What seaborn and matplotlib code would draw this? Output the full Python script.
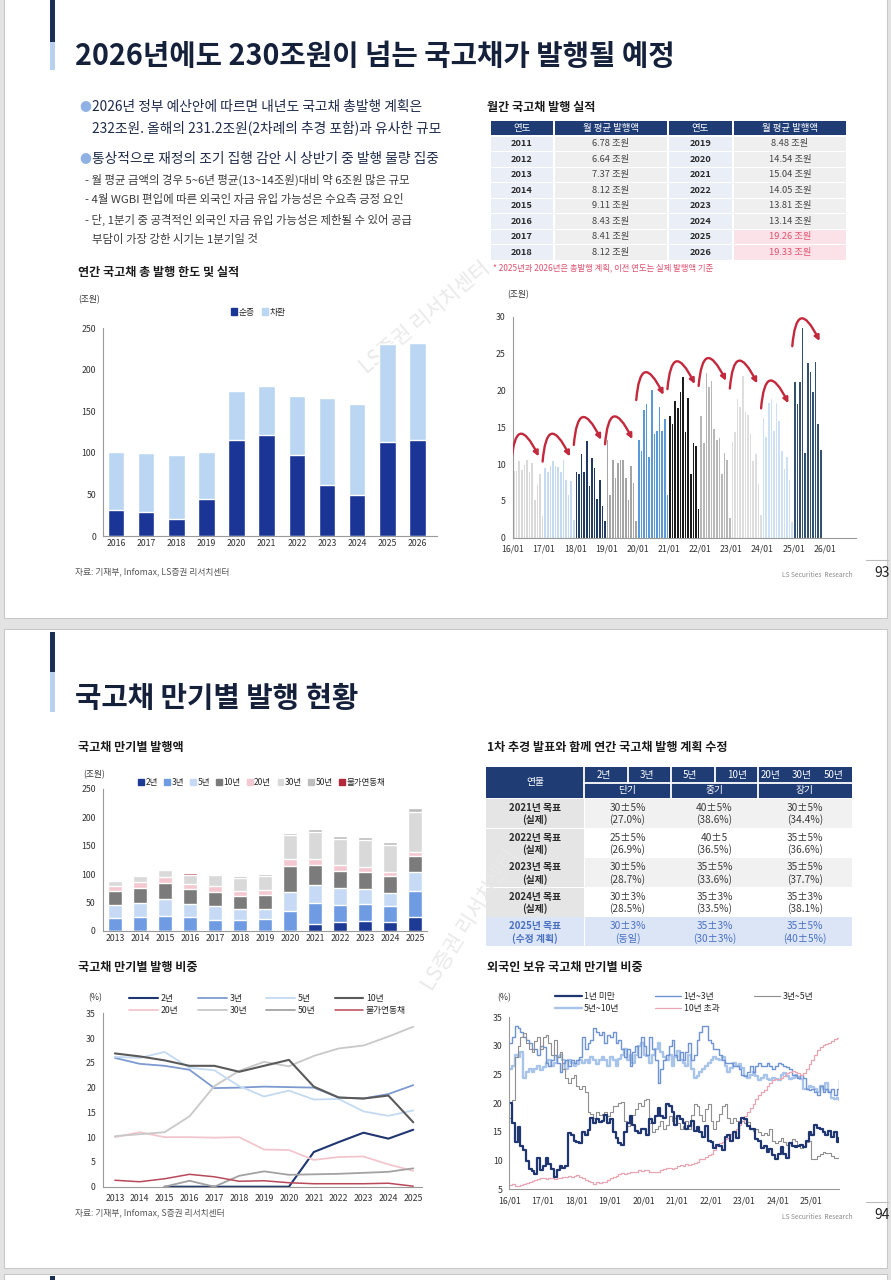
import numpy as np
import pandas as pd
import matplotlib
matplotlib.use("Agg")
import matplotlib.pyplot as plt
import seaborn as sns
from matplotlib.patches import Rectangle, FancyArrowPatch, Patch
from matplotlib.lines import Line2D

# ======================= DATA =======================
# Annual KTB issuance (조원)
ANNUAL_YEARS = ['2016', '2017', '2018', '2019', '2020', '2021', '2022', '2023', '2024', '2025', '2026']
ANNUAL_NET = [31, 29, 20, 44, 115, 121, 97, 61, 49, 113, 115.6]
ANNUAL_REFI = [70, 71, 77, 57.5, 59.5, 59.5, 71.5, 104.5, 109.5, 118.2, 116.4]

# Monthly average issuance table
TBL_YEARS_L = ['2011', '2012', '2013', '2014', '2015', '2016', '2017', '2018']
TBL_VALS_L = ['6.78 조원', '6.64 조원', '7.37 조원', '8.12 조원', '9.11 조원', '8.43 조원', '8.41 조원', '8.12 조원']
TBL_YEARS_R = ['2019', '2020', '2021', '2022', '2023', '2024', '2025', '2026']
TBL_VALS_R = ['8.48 조원', '14.54 조원', '15.04 조원', '14.05 조원', '13.81 조원', '13.14 조원', '19.26 조원', '19.33 조원']

# Monthly issuance (조원)
ISS_2016 = [9.1, 9.0, 10.4, 9.2, 9.9, 10.5, 8.9, 10.2, 5.1, 7.2, 8.7, 2.9]
ISS_2017 = [9.5, 8.9, 9.7, 10.4, 9.8, 9.6, 8.9, 10.5, 7.8, 5.8, 7.7, 2.4]
ISS_2018 = [8.9, 8.6, 11.4, 8.9, 13.1, 7.0, 10.8, 9.4, 5.2, 7.9, 4.3, 2.2]
ISS_2019 = [13.2, 5.8, 10.6, 8.1, 10.2, 10.6, 10.5, 8.1, 5.1, 9.8, 7.4, 2.3]
ISS_2020 = [13.3, 11.8, 17.4, 18.2, 10.9, 20.1, 14.1, 14.5, 17.8, 14.5, 16.1, 5.8]
ISS_2021 = [16.5, 15.4, 18.6, 17.6, 19.8, 21.8, 14.3, 19.0, 8.7, 12.8, 12.4, 3.9]
ISS_2022 = [16.5, 12.9, 22.3, 20.4, 21.3, 14.8, 13.2, 13.6, 8.7, 11.5, 10.6, 2.7]
ISS_2023 = [13.0, 14.3, 18.8, 17.8, 21.9, 17.0, 16.7, 14.1, 10.4, 11.3, 7.3, 3.1]
ISS_2024 = [16.2, 13.7, 18.3, 18.8, 14.5, 18.3, 15.8, 11.8, 9.3, 11.0, 7.9, 2.1]
ISS_2025 = [21.1, 18.2, 21.1, 28.5, 11.5, 23.7, 22.5, 19.8, 23.9, 15.4, 11.9]
ISS_TICKS = ['16/01', '17/01', '18/01', '19/01', '20/01', '21/01', '22/01', '23/01', '24/01', '25/01', '26/01']

# Issuance by maturity (조원)
MAT_YEARS = ['2013', '2014', '2015', '2016', '2017', '2018', '2019', '2020', '2021', '2022', '2023', '2024', '2025']
AMT_2Y = [0, 0, 0, 0, 0, 0, 0, 0, 12.6, 15.2, 18.2, 15.3, 25.0]
AMT_3Y = [23.0, 24.2, 26.6, 24.0, 20.1, 19.4, 20.5, 35.1, 36.1, 30.3, 29.7, 29.5, 44.7]
AMT_5Y = [23.2, 25.3, 29.6, 24.4, 23.7, 19.7, 18.5, 33.9, 31.8, 29.8, 25.4, 22.6, 33.6]
AMT_10Y = [23.8, 25.6, 27.8, 24.8, 24.6, 22.5, 24.8, 44.7, 36.5, 30.3, 29.7, 29.1, 28.3]
AMT_20Y = [8.9, 10.7, 10.9, 10.2, 10.0, 9.7, 7.6, 12.9, 9.7, 10.1, 10.2, 7.1, 7.0]
AMT_30Y = [9.0, 10.3, 12.0, 14.4, 20.5, 22.7, 25.6, 42.4, 47.7, 47.0, 47.6, 47.9, 70.4]
AMT_50Y = [0, 0, 0, 1.2, 0, 2.1, 3.1, 4.2, 4.5, 4.4, 4.7, 4.7, 8.1]
AMT_ILB = [1.2, 1.0, 1.7, 2.5, 2.0, 1.1, 1.2, 1.4, 1.1, 1.0, 1.0, 1.1, 0.2]

# Issuance share by maturity (%)
SHR_2Y = [np.nan, np.nan, 0, 0, 0, 0, 0, 0, 7.0, 9.0, 10.9, 9.7, 11.5]
SHR_3Y = [26.0, 24.8, 24.4, 23.6, 19.9, 20.0, 20.2, 20.1, 20.0, 18.0, 17.8, 18.7, 20.5]
SHR_5Y = [26.2, 26.0, 27.2, 24.0, 23.5, 20.3, 18.2, 19.4, 17.6, 17.7, 15.2, 14.3, 15.4]
SHR_10Y = [26.9, 26.3, 25.5, 24.4, 24.4, 23.2, 24.4, 25.6, 20.2, 18.0, 17.8, 18.4, 13.0]
SHR_20Y = [10.0, 11.0, 10.0, 10.0, 9.9, 10.0, 7.5, 7.4, 5.4, 6.0, 6.1, 4.5, 3.2]
SHR_30Y = [10.2, 10.6, 11.0, 14.2, 20.3, 23.4, 25.2, 24.3, 26.4, 27.9, 28.5, 30.3, 32.3]
SHR_50Y = [np.nan, np.nan, 0, 1.2, 0, 2.2, 3.1, 2.4, 2.5, 2.6, 2.8, 3.0, 3.7]
SHR_ILB = [1.3, 1.0, 1.6, 2.5, 2.0, 1.1, 1.2, 0.8, 0.6, 0.6, 0.6, 0.7, 0.1]

# Plan table
PLAN_YEAR = ['2021년 목표', '2022년 목표', '2023년 목표', '2024년 목표', '2025년 목표']
PLAN_SUB = ['(실제)', '(실제)', '(실제)', '(실제)', '(수정 계획)']
PLAN_SHORT = ['30±5%', '25±5%', '30±5%', '30±3%', '30±3%']
PLAN_SHORT2 = ['(27.0%)', '(26.9%)', '(28.7%)', '(28.5%)', '(동일)']
PLAN_MID = ['40±5%', '40±5', '35±5%', '35±3%', '35±3%']
PLAN_MID2 = ['(38.6%)', '(36.5%)', '(33.6%)', '(33.5%)', '(30±3%)']
PLAN_LONG = ['30±5%', '35±5%', '35±5%', '35±3%', '35±5%']
PLAN_LONG2 = ['(34.4%)', '(36.6%)', '(37.7%)', '(38.1%)', '(40±5%)']

# Foreign holdings by maturity (%), monthly 2016/01 - 2025/11
FH_UNDER1 = [20, 16.5, 13.2, 15.8, 12.5, 11.8, 10.0, 8.5, 8.2, 7.6, 10.5, 8.3,
             9.0, 10.5, 9.5, 8.5, 7.2, 8.3, 9.0, 8.8, 9.0, 14.8, 14.5, 13.5,
             13.2, 13.0, 15.0, 14.5, 15.3, 17.5, 16.5, 17.2, 16.8, 17.0, 18.0, 16.5,
             17.3, 15.0, 14.0, 13.0, 12.8, 15.0, 16.5, 17.8, 16.2, 15.2, 14.8, 15.5,
             15.5, 14.5, 17.2, 16.5, 17.8, 19.2, 17.8, 17.5, 19.8, 19.5, 18.5, 16.2,
             17.8, 17.2, 16.5, 15.5, 16.0, 17.0, 15.2, 15.8, 15.0, 14.2, 16.0, 13.5,
             13.2, 12.2, 12.8, 12.5, 11.8, 14.2, 14.5, 13.5, 15.0, 14.0, 16.5, 17.5,
             17.2, 16.0, 15.5, 15.5, 13.8, 13.5, 12.2, 12.5, 11.5, 12.0, 11.0, 10.2,
             11.2, 12.3, 11.2, 10.5, 13.0, 12.5, 12.3, 12.5, 12.8, 12.3, 13.5, 15.0,
             14.5, 16.3, 15.7, 15.5, 15.0, 14.5, 15.2, 14.2, 15.0, 13.2, 14.0]
FH_1TO3 = [30.5, 31.5, 33.5, 33.2, 32.5, 31.5, 31.0, 30.5, 29.5, 29.5, 28.5, 30.0,
           29.8, 27.0, 26.5, 27.5, 28.5, 27.0, 25.5, 27.0, 27.5, 26.5, 27.5, 27.0,
           27.5, 28.0, 31.5, 29.5, 30.5, 31.0, 33.2, 32.5, 32.0, 32.5, 30.5, 32.0,
           31.5, 32.5, 30.5, 31.0, 29.5, 28.0, 29.5, 26.5, 29.0, 30.0, 28.0, 31.5,
           30.0, 28.5, 31.5, 29.5, 27.5, 23.5, 26.0, 27.5, 28.5, 30.0, 31.0, 28.5,
           27.5, 29.0, 27.5, 29.0, 30.5, 27.5, 28.5, 31.0, 32.5, 33.5, 33.5, 31.0,
           30.5, 29.5, 29.5, 28.5, 27.5, 27.0, 27.0, 27.0, 26.5, 26.5, 26.0, 25.0,
           24.8, 25.5, 26.5, 25.5, 26.5, 27.0, 26.5, 26.5, 27.0, 26.5, 26.0, 26.5,
           27.0, 26.8, 26.5, 26.3, 26.0, 25.0, 25.0, 24.5, 25.0, 24.5, 22.5, 22.3,
           22.5, 22.0, 21.5, 23.0, 22.0, 22.5, 22.0, 22.5, 21.5, 22.5, 24.0]
FH_3TO5 = [17.5, 20.5, 28.0, 30.0, 31.5, 32.2, 30.5, 29.5, 29.0, 30.8, 31.5, 29.5,
           31.5, 32.0, 30.5, 28.5, 31.0, 28.0, 29.0, 26.0, 24.5, 23.5, 24.5, 25.0,
           23.0, 22.5, 23.0, 22.0, 18.5, 18.2, 17.5, 18.5, 18.0, 18.2, 18.5, 17.8,
           18.5, 19.5, 19.5, 20.0, 20.3, 17.0, 16.0, 16.5, 18.0, 19.0, 20.0, 19.5,
           20.5, 20.8, 16.5, 15.0, 15.5, 16.0, 17.0, 15.5, 16.2, 17.8, 17.0, 17.5,
           16.5, 15.5, 16.0, 17.0, 15.5, 18.0, 19.8, 19.5, 18.0, 17.0, 19.0, 19.8,
           17.0, 15.5, 17.0, 18.2, 19.5, 19.8, 17.5, 16.5, 17.5, 17.0, 16.8, 17.0,
           16.5, 16.8, 15.5, 15.2, 15.5, 15.0, 14.5, 14.8, 14.5, 15.5, 13.5, 13.0,
           13.5, 14.0, 13.2, 12.8, 13.0, 13.8, 13.5, 12.5, 12.2, 12.5, 13.2, 13.5,
           10.2, 10.3, 10.8, 11.2, 11.5, 11.3, 11.3, 10.8, 10.5, 10.5, 10.3]
FH_5TO10 = [26.0, 26.5, 28.5, 28.0, 29.0, 24.5, 25.5, 26.0, 25.5, 26.0, 26.5, 25.8,
            26.3, 27.0, 27.5, 26.5, 27.0, 28.0, 28.5, 27.5, 26.0, 27.5, 27.0, 26.5,
            26.8, 27.5, 27.0, 27.5, 27.0, 28.0, 27.5, 26.8, 27.5, 28.0, 27.5, 26.5,
            28.0, 27.5, 26.5, 27.8, 28.5, 29.5, 27.5, 28.5, 27.0, 28.5, 30.0, 30.5,
            28.5, 28.2, 27.0, 28.5, 29.5, 30.5, 29.0, 28.0, 27.5, 28.5, 26.5, 28.0,
            29.2, 27.5, 27.0, 26.5, 28.5, 26.0, 24.5, 24.8, 25.5, 26.0, 26.5, 27.0,
            27.5, 28.0, 27.8, 27.5, 28.0, 26.5, 25.5, 26.2, 27.0, 26.5, 26.8, 26.2,
            24.8, 24.5, 25.0, 25.5, 24.8, 24.0, 24.5, 25.0, 24.2, 24.0, 24.5, 24.2,
            24.0, 25.0, 25.2, 24.8, 24.2, 24.5, 25.0, 24.6, 24.2, 22.5, 22.5, 23.0,
            22.8, 22.5, 22.0, 23.0, 22.5, 23.5, 22.0, 21.0, 20.8, 21.0, 20.5]
FH_OVER10 = [5.8, 5.9, 5.5, 5.6, 5.8, 5.9, 6.1, 6.3, 6.5, 6.7, 6.8, 6.9,
             6.9, 6.8, 6.9, 7.0, 6.8, 7.0, 6.9, 7.1, 7.2, 7.3, 7.1, 7.3,
             7.5, 7.2, 6.9, 6.6, 6.4, 6.2, 6.0, 6.2, 6.1, 6.3, 6.3, 6.6,
             6.9, 7.1, 7.4, 7.6, 7.8, 7.7, 7.9, 8.1, 8.0, 8.0, 8.3, 8.2,
             8.4, 8.3, 8.0, 8.1, 8.0, 8.1, 8.4, 8.5, 8.8, 8.7, 8.6, 8.8,
             9.1, 9.2, 9.0, 9.4, 9.3, 9.5, 9.6, 9.8, 10.2, 10.3, 10.7, 10.9,
             11.2, 11.8, 12.5, 13.0, 13.2, 13.8, 14.0, 14.6, 15.2, 15.5, 16.2, 17.0,
             17.8, 18.5, 19.2, 19.8, 20.8, 21.5, 22.0, 22.3, 23.0, 23.6, 24.0, 24.2,
             24.2, 24.5, 24.8, 25.2, 25.4, 25.6, 25.5, 25.2, 25.0, 25.3, 26.0, 26.8,
             27.5, 28.5, 29.3, 29.8, 30.2, 30.3, 30.5, 30.8, 31.2, 31.4, 31.3]
FH_TICKS = ['16/01', '17/01', '18/01', '19/01', '20/01', '21/01', '22/01', '23/01', '24/01', '25/01']

# ======================= STYLE =======================
sns.set_theme(style="white")
plt.rcParams['font.family'] = ['Noto Sans CJK KR', 'DejaVu Sans']
plt.rcParams['axes.unicode_minus'] = False

W, H = 891, 1280
fig = plt.figure(figsize=(W / 100, H / 100), dpi=100)
fig.patch.set_facecolor('#e3e3e3')
bg = fig.add_axes([0, 0, 1, 1], zorder=0)
bg.set_xlim(0, W)
bg.set_ylim(H, 0)
bg.axis('off')

NAVY = '#1b2f55'
HDR = '#1f3c75'
TXT = '#1c2640'
AX_C = '#9a9a9a'
TICK_C = '#333333'


def T(x, y, s, size=8, color=TXT, weight='normal', ha='left', va='center', **kw):
    return bg.text(x, y, s, fontsize=size, color=color, fontweight=weight, ha=ha, va=va, **kw)


def pax(l, t, r, b):
    ax = fig.add_axes([l / W, 1 - b / H, (r - l) / W, (b - t) / H], zorder=2)
    ax.patch.set_alpha(0)
    return ax


def style_ax(ax, xlen=3):
    sns.despine(ax=ax)
    for s in ['left', 'bottom']:
        ax.spines[s].set_color(AX_C)
        ax.spines[s].set_linewidth(0.8)
    ax.tick_params(axis='both', labelsize=6.3, labelcolor=TICK_C, color=AX_C,
                   length=3, width=0.6, direction='out', pad=2)
    ax.tick_params(axis='x', length=xlen)
    ax.set_xlabel('')
    ax.set_ylabel('')
    ax.grid(False)


# ---------------- slides ----------------
bg.add_patch(Rectangle((4, -2), 883, 620, fc='white', ec='#c9c9c9', lw=0.8))
bg.add_patch(Rectangle((4, 629), 883, 639, fc='white', ec='#c9c9c9', lw=0.8))
bg.add_patch(Rectangle((4, 1274), 883, 10, fc='white', ec='#c9c9c9', lw=0.8))
bg.add_patch(Rectangle((50, 0), 5, 42, fc=NAVY, lw=0))
bg.add_patch(Rectangle((50, 42), 5, 28, fc='#b9d1ef', lw=0))
bg.add_patch(Rectangle((50, 632), 5, 40, fc=NAVY, lw=0))
bg.add_patch(Rectangle((50, 672), 5, 40, fc='#b9d1ef', lw=0))
bg.add_patch(Rectangle((50, 1276), 5, 6, fc=NAVY, lw=0))

# watermarks
T(425, 318, 'LS증권 리서치센터', size=15, color='#e9e9e9', rotation=40, ha='center')
T(470, 920, 'LS증권 리서치센터', size=15, color='#e9e9e9', rotation=58, ha='center')

# ---------------- slide 1 text ----------------
T(75, 56, '2026년에도 230조원이 넘는 국고채가 발행될 예정', size=20.7, weight='bold', color='#15203a')
BUL = '#8fb1e4'
MAIN = dict(size=9.9, weight='medium', color='#1f2b4a')
T(79, 107, '●', size=8.5, color=BUL)
T(92, 107, '2026년 정부 예산안에 따르면 내년도 국고채 총발행 계획은', **MAIN)
T(92, 128, '232조원. 올해의 231.2조원(2차례의 추경 포함)과 유사한 규모', **MAIN)
T(79, 159, '●', size=8.5, color=BUL)
T(92, 159, '통상적으로 재정의 조기 집행 감안 시 상반기 중 발행 물량 집중', **MAIN)
SUB = dict(size=8.2, color='#3a3a3a')
T(85, 180, '- 월 평균 금액의 경우 5~6년 평균(13~14조원)대비 약 6조원 많은 규모', **SUB)
T(85, 200, '- 4월 WGBI 편입에 따른 외국인 자금 유입 가능성은 수요측 긍정 요인', **SUB)
T(85, 220, '- 단, 1분기 중 공격적인 외국인 자금 유입 가능성은 제한될 수 있어 공급', **SUB)
T(92, 240, '부담이 가장 강한 시기는 1분기일 것', **SUB)
T(78, 272, '연간 국고채 총 발행 한도 및 실적', size=8.7, weight='bold', color='#1a1a1a')
T(487, 107, '월간 국고채 발행 실적', size=8.7, weight='bold', color='#1a1a1a')

T(75, 572, '자료: 기재부, Infomax, LS증권 리서치센터', size=6.3, color='#555555')
T(782, 575, 'LS Securities  Research', size=4.8, color='#8a8a8a')
T(874, 573, '93', size=10, color='#222222')
bg.plot([866, 888], [560, 560], color='#bbbbbb', lw=0.8)

# ---------------- table 1 ----------------
cols = [(491, 553), (555, 667), (669, 732), (734, 846)]
hdrs = ['연도', '월 평균 발행액', '연도', '월 평균 발행액']
for (x0, x1), h in zip(cols, hdrs):
    bg.add_patch(Rectangle((x0, 121), x1 - x0, 14, fc=HDR, lw=0))
    T((x0 + x1) / 2, 128.3, h, size=6.8, color='white', ha='center')
for i in range(8):
    top = 136.5 + i * 15.5
    cy = top + 7.4
    for side, (yrs, vals) in enumerate([(TBL_YEARS_L, TBL_VALS_L), (TBL_YEARS_R, TBL_VALS_R)]):
        (ya, yb), (va_, vb) = cols[side * 2], cols[side * 2 + 1]
        bg.add_patch(Rectangle((ya, top), yb - ya, 14.5, fc='#e9eef7', lw=0))
        pink = side == 1 and i >= 6
        bg.add_patch(Rectangle((va_, top), vb - va_, 14.5, fc='#fbe2e8' if pink else '#efefef', lw=0))
        T((ya + yb) / 2, cy, yrs[i], size=6.7, weight='bold', color='#2a2a2a', ha='center')
        T((va_ + vb) / 2, cy, vals[i], size=6.7, color='#e0506e' if pink else '#444444', ha='center')
T(493, 268, '* 2025년과 2026년은 총발행 계획, 이전 연도는 실제 발행액 기준', size=6, color='#e0506e')

# ---------------- chart 1: annual issuance ----------------
ax1 = pax(103, 328, 437, 536)
tot = [a + b for a, b in zip(ANNUAL_NET, ANNUAL_REFI)]
sns.barplot(x=ANNUAL_YEARS, y=tot, color='#bad6f3', width=0.55, saturation=1, errorbar=None, ax=ax1)
sns.barplot(x=ANNUAL_YEARS, y=ANNUAL_NET, color='#1a3596', width=0.55, saturation=1, errorbar=None, ax=ax1)
ax1.set_ylim(0, 250)
ax1.set_yticks(range(0, 251, 50))
ax1.set_xlim(-0.43, 10.65)
style_ax(ax1, xlen=0)
T(78, 300, '(조원)', size=6.3, color=TICK_C)
ax1.legend(handles=[Patch(color='#1a3596', label='순증'), Patch(color='#bad6f3', label='차환')],
           loc='center', bbox_to_anchor=(258 / W, 1 - 312 / H), bbox_transform=fig.transFigure,
           ncol=2, frameon=False, fontsize=6.3, handlelength=0.7, handleheight=0.7,
           handletextpad=0.2, columnspacing=0.8, borderpad=0)

# ---------------- chart 2: monthly issuance ----------------
ax2 = pax(512.7, 316.7, 856, 537.7)
year_lists = [ISS_2016, ISS_2017, ISS_2018, ISS_2019, ISS_2020, ISS_2021, ISS_2022, ISS_2023, ISS_2024, ISS_2025]
year_cols = ['#d9d9d9', '#c6daf0', '#203a62', '#a5a5a5', '#5b9ad6', '#1b1b1b', '#b8b8b8', '#dedede', '#cde0f4', '#33506f']
for i, (vals, c) in enumerate(zip(year_lists, year_cols)):
    pos = [i * 12 + m + 0.5 for m in range(len(vals))]
    ax2.bar(pos, vals, width=0.62, color=c, linewidth=0, antialiased=True)
ax2.set_xlim(0, 132)
ax2.set_ylim(0, 30)
ax2.set_xticks(range(0, 121, 12))
ax2.set_xticklabels(ISS_TICKS)
ax2.set_yticks(range(0, 31, 5))
style_ax(ax2)
T(507, 295, '(조원)', size=6.3, color=TICK_C)
for i, vals in enumerate(year_lists):
    mx = max(vals)
    y0 = 0.87 * mx + 1.2
    arr = FancyArrowPatch((12 * i - 0.5, y0), (12 * i + 10, y0 + 0.7),
                          connectionstyle='arc3,rad=-1.8', arrowstyle='-|>', mutation_scale=7.5,
                          color='#c3283c', lw=1.7, shrinkA=0, shrinkB=0, zorder=5)
    ax2.add_patch(arr)

# ================= slide 2 =================
T(75, 698, '국고채 만기별 발행 현황', size=20.7, weight='bold', color='#15203a')
T(78, 748, '국고채 만기별 발행액', size=8.7, weight='bold', color='#1a1a1a')
T(487, 748, '1차 추경 발표와 함께 연간 국고채 발행 계획 수정', size=8.7, weight='bold', color='#1a1a1a')
T(78, 968, '국고채 만기별 발행 비중', size=8.7, weight='bold', color='#1a1a1a')
T(487, 968, '외국인 보유 국고채 만기별 비중', size=8.7, weight='bold', color='#1a1a1a')
T(75, 1213, '자료: 기재부, Infomax, S증권 리서치센터', size=6.3, color='#555555')
T(782, 1217, 'LS Securities  Research', size=4.8, color='#8a8a8a')
T(874, 1215, '94', size=10, color='#222222')
bg.plot([866, 888], [1202, 1202], color='#bbbbbb', lw=0.8)

# ---------------- chart 3: issuance by maturity ----------------
ax3 = pax(102.7, 789, 427, 931)
layers = [('2년', AMT_2Y, '#1d3a94'), ('3년', AMT_3Y, '#6f9be2'), ('5년', AMT_5Y, '#c6daf5'),
          ('10년', AMT_10Y, '#7b7b7b'), ('20년', AMT_20Y, '#f4c8d0'), ('30년', AMT_30Y, '#d9d9d9'),
          ('50년', AMT_50Y, '#bdbdbd'), ('물가연동채', AMT_ILB, '#b3293b')]
cum = np.cumsum(np.array([l[1] for l in layers]), axis=0)
for k in range(len(layers) - 1, -1, -1):
    sns.barplot(x=MAT_YEARS, y=cum[k], color=layers[k][2], width=0.53, saturation=1, errorbar=None, ax=ax3)
ax3.set_ylim(0, 250)
ax3.set_yticks(range(0, 251, 50))
ax3.set_xlim(-0.49, 12.48)
style_ax(ax3, xlen=0)
T(83, 775, '(조원)', size=6.3, color=TICK_C)
ax3.legend(handles=[Patch(color=c, label=n) for n, _, c in layers],
           loc='center left', bbox_to_anchor=(134 / W, 1 - 782 / H), bbox_transform=fig.transFigure,
           ncol=8, frameon=False, fontsize=6.1, handlelength=0.7, handleheight=0.7,
           handletextpad=0.15, columnspacing=0.75, borderpad=0)

# ---------------- table 2 ----------------
bg.add_patch(Rectangle((486, 767), 366, 31, fc=HDR, lw=0))
for x in [584, 671, 758]:
    bg.plot([x, x], [767, 798], color='white', lw=1.3)
for x in [627.5, 714.5]:
    bg.plot([x, x], [767, 782.5], color='white', lw=1.3)
bg.plot([584, 852], [782.5, 782.5], color='white', lw=1.3)
T(535, 782.5, '연물', size=7, color='white', ha='center')
for x, s in [(604, '2년'), (647, '3년'), (690, '5년'), (737, '10년'), (771, '20년'), (802, '30년'), (834, '50년')]:
    T(x, 775, s, size=7, color='white', ha='center')
for x, s in [(627.5, '단기'), (714.5, '중기'), (805, '장기')]:
    T(x, 790.5, s, size=7, color='white', ha='center')
row_tops = [799, 828.6, 858.2, 887.8, 917.4]
for i in range(5):
    top = row_tops[i]
    h = 29
    last = i == 4
    c0 = '#dbe5f6' if last else '#e5e5e5'
    cd = '#dbe5f6' if last else ('#f1f1f1' if i % 2 == 0 else '#ffffff')
    bg.add_patch(Rectangle((486, top), 98, h, fc=c0, lw=0))
    bg.add_patch(Rectangle((584.5, top), 267.5, h, fc=cd, lw=0))
    tc = '#4a70c2' if last else '#2a2a2a'
    dc = '#4a70c2' if last else '#3c3c3c'
    T(535, top + 9, PLAN_YEAR[i], size=7, weight='bold', color=tc, ha='center')
    T(535, top + 21, PLAN_SUB[i], size=7, weight='bold', color=tc, ha='center')
    for x, a, b in [(627.5, PLAN_SHORT, PLAN_SHORT2), (714.5, PLAN_MID, PLAN_MID2), (805, PLAN_LONG, PLAN_LONG2)]:
        T(x, top + 9, a[i], size=7.3, color=dc, ha='center')
        T(x, top + 21, b[i], size=7.3, color=dc, ha='center')

# ---------------- chart 4: share by maturity ----------------
ax4 = pax(102.7, 1013.3, 421.7, 1186.7)
xs = np.arange(len(MAT_YEARS))
share_lines = [('2년', SHR_2Y, '#1f3670', 1.5), ('20년', SHR_20Y, '#f2c6cd', 1.3),
               ('3년', SHR_3Y, '#7d9ad0', 1.3), ('30년', SHR_30Y, '#c8c8c8', 1.3),
               ('5년', SHR_5Y, '#c3daf2', 1.3), ('50년', SHR_50Y, '#a2a2a2', 1.3),
               ('10년', SHR_10Y, '#5a5a5a', 1.5), ('물가연동채', SHR_ILB, '#b8485a', 1.1)]
for name, vals, c, lw in share_lines:
    sns.lineplot(x=xs, y=vals, color=c, lw=lw, ax=ax4, legend=False)
ax4.set_xlim(-0.49, 12.34)
ax4.set_ylim(0, 35)
ax4.set_xticks(xs)
ax4.set_xticklabels(MAT_YEARS)
ax4.set_yticks(range(0, 36, 5))
style_ax(ax4)
T(88, 998, '(%)', size=6.3, color=TICK_C)
ax4.legend(handles=[Line2D([], [], color=c, lw=lw, label=n) for n, _, c, lw in share_lines],
           loc='upper left', bbox_to_anchor=(125 / W, 1 - 990 / H), bbox_transform=fig.transFigure,
           ncol=4, frameon=False, fontsize=6.3, handlelength=3.3, handletextpad=0.3,
           columnspacing=2.2, labelspacing=0.35, borderpad=0)

# ---------------- chart 5: foreign holdings ----------------
ax5 = pax(509.3, 1017.3, 839.3, 1189.3)
mx_ = np.arange(len(FH_UNDER1))
fh_lines = [('1년 미만', FH_UNDER1, '#1f3670', 1.6), ('5년~10년', FH_5TO10, '#a9c4ea', 1.7),
            ('1년~3년', FH_1TO3, '#7093d2', 1.0), ('10년 초과', FH_OVER10, '#e8a6b5', 0.9),
            ('3년~5년', FH_3TO5, '#8f8f8f', 0.8)]
draw_order = [fh_lines[1], fh_lines[2], fh_lines[4], fh_lines[3], fh_lines[0]]
for name, vals, c, lw in draw_order:
    sns.lineplot(x=mx_, y=vals, color=c, lw=lw, ax=ax5, legend=False, drawstyle='steps-post')
ax5.set_xlim(0, 118)
ax5.set_ylim(5, 35)
ax5.set_xticks(range(0, 109, 12))
ax5.set_xticklabels(FH_TICKS)
ax5.set_yticks(range(5, 36, 5))
style_ax(ax5)
T(497, 998, '(%)', size=6.3, color=TICK_C)
ax5.legend(handles=[Line2D([], [], color=c, lw=lw, label=n) for n, _, c, lw in fh_lines],
           loc='upper left', bbox_to_anchor=(551 / W, 1 - 988 / H), bbox_transform=fig.transFigure,
           ncol=3, frameon=False, fontsize=6.3, handlelength=3.0, handletextpad=0.3,
           columnspacing=4.0, labelspacing=0.25, borderpad=0)

fig.savefig('out.png', dpi=100, facecolor=fig.get_facecolor())
